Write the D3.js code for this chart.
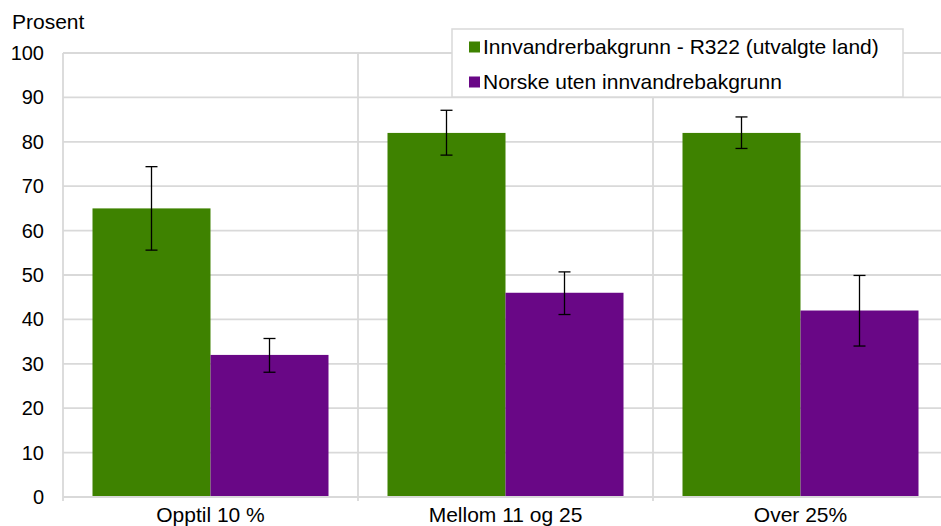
<!DOCTYPE html>
<html>
<head>
<meta charset="utf-8">
<script src="https://cdn.jsdelivr.net/npm/d3@7"></script>
<style>
  body { margin: 0; background: #fff; }
  text { font-family: "Liberation Sans", Arial, sans-serif; fill: #000; }
</style>
</head>
<body>
<div id="chart"></div>
<script>
// chart values
const categories = ["Opptil 10 %", "Mellom 11 og 25", "Over 25%"];
const seriesNames = ["Innvandrerbakgrunn - R322 (utvalgte land)", "Norske uten innvandrebakgrunn"];
const seriesColors = ["#3e8200", "#690786"];
const immigrantValues = [65, 82, 82];
const immigrantLow = [55.6, 77.0, 78.5];
const immigrantHigh = [74.4, 87.1, 85.6];
const norwegianValues = [32, 46, 42];
const norwegianLow = [28.1, 41.1, 34.0];
const norwegianHigh = [35.7, 50.7, 49.9];
const yTicks = [0, 10, 20, 30, 40, 50, 60, 70, 80, 90, 100];

function drawChart()
{
    const width = 941, height = 526;
    const margin = ({top: 53, right: -7, bottom: 29, left: 63});
    const fontSize = 21;

    const series = [
        {name: seriesNames[0], color: seriesColors[0], values: immigrantValues, low: immigrantLow, high: immigrantHigh},
        {name: seriesNames[1], color: seriesColors[1], values: norwegianValues, low: norwegianLow, high: norwegianHigh}
    ];

    const xScale = d3.scaleBand(categories, [margin.left, width - margin.right]);
    const yScale = d3.scaleLinear([0, 100], [height - margin.bottom, margin.top]);

    const svg = d3.select("#chart").append("svg")
        .attr("width", width)
        .attr("height", height)
        .attr("viewBox", [0, 0, width, height]);

    // horizontal grid
    svg.append("g")
        .selectAll("line")
        .data(yTicks)
        .join("line")
        .attr("x1", margin.left)
        .attr("x2", width - margin.right)
        .attr("y1", d => yScale(d))
        .attr("y2", d => yScale(d))
        .attr("stroke", "#d9d9d9")
        .attr("stroke-width", 1.8);

    // vertical separators between categories
    const bounds = categories.map(c => xScale(c)).concat([xScale(categories[categories.length - 1]) + xScale.bandwidth()]);
    svg.append("g")
        .selectAll("line")
        .data(bounds)
        .join("line")
        .attr("x1", d => d)
        .attr("x2", d => d)
        .attr("y1", yScale(100))
        .attr("y2", yScale(0) + 4)
        .attr("stroke", "#d9d9d9")
        .attr("stroke-width", 1.8);

    // y axis labels
    const yAxis = d3.axisLeft(yScale).tickValues(yTicks).tickSize(0).tickPadding(19);
    svg.append("g")
        .attr("transform", `translate(${margin.left},0)`)
        .call(yAxis)
        .call(g => g.select(".domain").remove())
        .call(g => g.selectAll("text")
            .attr("font-size", 20)
            .attr("font-family", null)
            .attr("fill", "#000"));

    svg.append("text")
        .attr("x", 12)
        .attr("y", 29)
        .attr("font-size", fontSize)
        .text("Prosent");

    // x axis labels
    const xAxis = d3.axisBottom(xScale).tickSize(0);
    svg.append("g")
        .attr("transform", `translate(0,${yScale(0)})`)
        .call(xAxis)
        .call(g => g.select(".domain").remove())
        .call(g => g.selectAll("text")
            .attr("y", 10)
            .attr("font-size", fontSize)
            .attr("font-family", null)
            .attr("fill", "#000"));

    // bars
    const barWidth = 118;
    series.forEach((s, si) => {
        const g = svg.append("g");
        const cx = c => xScale(c) + xScale.bandwidth() / 2 + (si === 0 ? -barWidth / 2 : barWidth / 2);
        g.selectAll("rect")
            .data(categories)
            .join("rect")
            .attr("x", c => cx(c) - barWidth / 2)
            .attr("width", barWidth)
            .attr("y", (c, i) => yScale(s.values[i]))
            .attr("height", (c, i) => yScale(0) - yScale(s.values[i]))
            .attr("fill", s.color);
        // error bars
        const eb = g.selectAll("g.err")
            .data(categories)
            .join("g")
            .attr("class", "err")
            .attr("stroke", "#000")
            .attr("stroke-width", 1.3);
        eb.append("line")
            .attr("x1", c => cx(c)).attr("x2", c => cx(c))
            .attr("y1", (c, i) => yScale(s.high[i]))
            .attr("y2", (c, i) => yScale(s.low[i]));
        eb.append("line")
            .attr("x1", c => cx(c) - 6).attr("x2", c => cx(c) + 6)
            .attr("y1", (c, i) => yScale(s.high[i]))
            .attr("y2", (c, i) => yScale(s.high[i]));
        eb.append("line")
            .attr("x1", c => cx(c) - 6).attr("x2", c => cx(c) + 6)
            .attr("y1", (c, i) => yScale(s.low[i]))
            .attr("y2", (c, i) => yScale(s.low[i]));
    });

    // axis baseline
    svg.append("line")
        .attr("x1", margin.left)
        .attr("x2", width - margin.right)
        .attr("y1", yScale(0))
        .attr("y2", yScale(0))
        .attr("stroke", "#d9d9d9")
        .attr("stroke-width", 1.8);

    // legend
    const legend = svg.append("g").attr("transform", "translate(452,29)");
    legend.append("rect")
        .attr("width", 451)
        .attr("height", 68)
        .attr("fill", "#fff")
        .attr("stroke", "#d9d9d9")
        .attr("stroke-width", 1.5);
    const item = legend.selectAll("g.item")
        .data(series)
        .join("g")
        .attr("class", "item")
        .attr("transform", (d, i) => `translate(17,${18 + i * 35})`);
    item.append("rect")
        .attr("x", 0)
        .attr("y", -5.5)
        .attr("width", 11)
        .attr("height", 11)
        .attr("fill", d => d.color);
    item.append("text")
        .attr("x", 14)
        .attr("dy", "0.35em")
        .attr("font-size", fontSize)
        .text(d => d.name);
}

drawChart();
</script>
</body>
</html>
